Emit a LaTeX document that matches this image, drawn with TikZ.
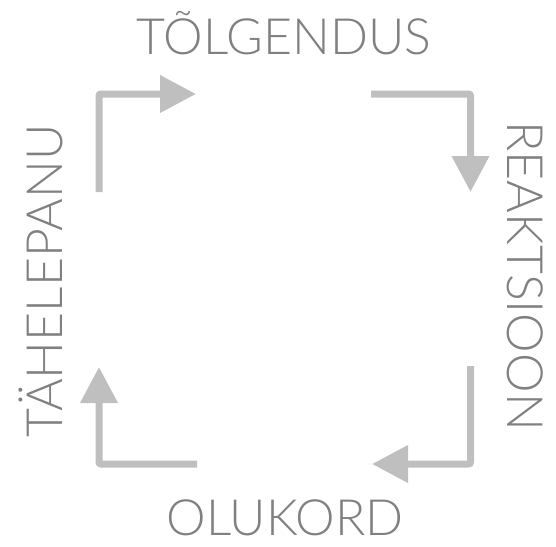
\documentclass[tikz,border=0pt]{standalone}
\usepackage{fontspec}
\setmainfont{Lato}[UprightFont=* Light]
\usetikzlibrary{arrows.meta,positioning}

\definecolor{arrowgray}{RGB}{191,191,191}
\definecolor{textgray}{RGB}{128,128,128}

\tikzset{
  cyclearrow/.style={draw=arrowgray, line width=7pt, rounded corners=2pt,
    -{Triangle[length=36pt,width=36pt]}},
  stagelabel/.style={draw=none, text=textgray, font=\fontsize{50}{50}\selectfont,
    inner sep=0pt, anchor=base}
}

\begin{document}
\begin{tikzpicture}[x=1pt,y=-1pt]

\useasboundingbox (0,0) rectangle (556,546);

% Stage labels
\node[stagelabel] (interp) at (284,54) {TÕLGENDUS};
\node[stagelabel, rotate=-90] (react) at (507,276) {REAKTSIOON};
\node[stagelabel] (situ) at (285,535) {OLUKORD};
\node[stagelabel, rotate=90] (attn) at (62,281) {TÄHELEPANU};

% Corner points of the cycle
\coordinate (tl) at (99,94);
\coordinate (tr) at (470.5,94);
\coordinate (br) at (470.5,464);
\coordinate (bl) at (99,464);

% Arrows
\draw[cyclearrow] (99,192) -- (tl) -- (196,94);
\draw[cyclearrow] (371,94) -- (tr) -- (470.5,192);
\draw[cyclearrow] (470.5,366) -- (br) -- (372,464);
\draw[cyclearrow] (197,464) -- (bl) -- (99,367);

\end{tikzpicture}
\end{document}
